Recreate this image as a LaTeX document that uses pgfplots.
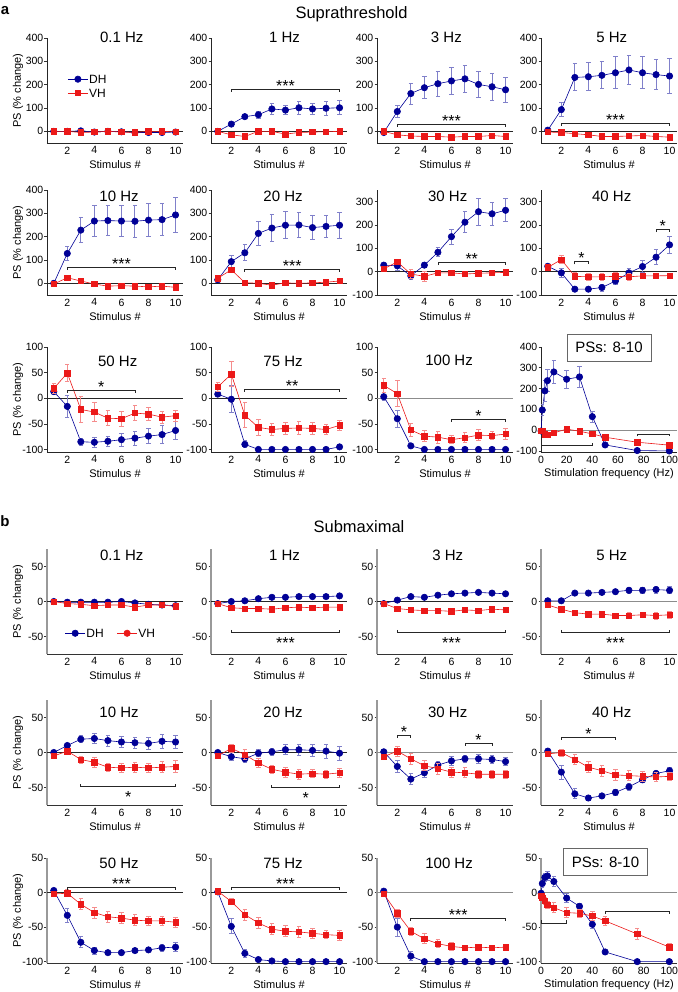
\documentclass[border=0pt]{standalone}
\usepackage{fontspec}
\setmainfont{Liberation Sans}
\usepackage{pgfplots}
\pgfplotsset{compat=1.18}
\definecolor{dhblue}{RGB}{0,0,150}
\definecolor{vhred}{RGB}{235,25,25}
\newcommand{\fs}[1]{\fontsize{#1}{#1}\selectfont}
\pgfplotsset{
 base/.style={
  scale only axis, width=136pt, height=105pt, anchor=south west,
  axis x line*=bottom, axis y line*=left, clip mode=individual,
  tick align=outside, major tick length=2.5pt,
  xtick style={draw=none}, ytick style={black!80, line width=0.6pt},
  tick label style={font=\fs{10.5}}, /pgf/number format/assume math mode=true,
  yticklabel style={inner sep=1pt}, xticklabel style={inner sep=1pt},
  xlabel={Stimulus \#},
  every axis x label/.style={at={(rel axis cs:0.5,0)}, anchor=center, yshift=-22pt, font=\fs{11}},
  every axis y label/.style={at={(rel axis cs:-0.213,0.5)}, anchor=center, rotate=90, font=\fs{11}},
  xmin=0.5, xmax=10.55, xtick={2,4,6,8,10},
  legend image code/.code={\draw[mark repeat=2,mark phase=2,##1] plot coordinates {(0pt,0pt) (10pt,0pt) (20pt,0pt)};},
 },
 sA/.style={x axis line style={black!85, line width=0.7pt}, y axis line style={black!85, line width=0.7pt}},
 sB/.style={x axis line style={black!80, line width=0.7pt}, y axis line style={black!40, line width=1.6pt}},
 fq/.style={xmin=0, xmax=106, xtick={0,20,40,60,80,100}, xlabel={Stimulation frequency (Hz)}},
 dh/.style={color=dhblue, line width=0.6pt, mark=*, mark size=3.2pt, mark options={solid, fill=dhblue, draw=dhblue},
  error bars/y dir=both, error bars/y explicit,
  error bars/error bar style={dhblue!50, line width=1pt},
  error bars/error mark options={rotate=90, dhblue!50, mark size=2.2pt, line width=1pt}},
 vh/.style={color=vhred, line width=0.6pt, mark=square*, mark size=2.7pt, mark options={solid, fill=vhred, draw=vhred},
  error bars/y dir=both, error bars/y explicit,
  error bars/error bar style={vhred!50, line width=1pt},
  error bars/error mark options={rotate=90, vhred!50, mark size=2.2pt, line width=1pt}},
 legA/.style={legend cell align=left, legend style={at={(rel axis cs:0.15,0.66)}, anchor=north west, draw=none, fill=none, font=\fs{12}, row sep=3pt, inner sep=0pt, nodes={inner sep=1pt, text height=8.6pt, text depth=0pt}}},
 legB/.style={legend columns=2, legend style={at={(rel axis cs:0.13,0.25)}, anchor=north west, draw=none, fill=none, font=\fs{12}, inner sep=0pt, nodes={inner sep=1pt, text height=8.6pt, text depth=0pt}, /tikz/every even column/.append style={column sep=12pt}}},
}
\newcommand{\dhplot}[1]{\addplot[dh] table[x index=0,y index=1,y error index=2,row sep=\\]{#1};}
\newcommand{\vhplot}[1]{\addplot[vh] table[x index=0,y index=1,y error index=2,row sep=\\]{#1};}
\newcommand{\dhplotf}[1]{\addplot[dh,forget plot] table[x index=0,y index=1,y error index=2,row sep=\\]{#1};}
\newcommand{\vhplotf}[1]{\addplot[vh,forget plot] table[x index=0,y index=1,y error index=2,row sep=\\]{#1};}
\newcommand{\ttl}[3]{\node[font=\fs{15}, yshift=#2pt] at (rel axis cs:#1,1) {#3};}
\newcommand{\zl}[3]{\draw[#3, line width=0.7pt] (axis cs:#1,0) -- (axis cs:#2,0);}
% bar with text above: x1 x2 y xmid text
\newcommand{\sigU}[5]{\draw[black!85, line width=0.8pt] ([yshift=-2.5pt]axis cs:#1,#3) -- (axis cs:#1,#3) -- (axis cs:#2,#3) -- ([yshift=-2.5pt]axis cs:#2,#3);
 \node[anchor=base, font=\fs{16}, inner sep=0pt, yshift=-2pt] at (axis cs:#4,#3) {#5};}
% bar with text below
\newcommand{\sigD}[5]{\draw[black!85, line width=0.8pt] ([yshift=2.5pt]axis cs:#1,#3) -- (axis cs:#1,#3) -- (axis cs:#2,#3) -- ([yshift=2.5pt]axis cs:#2,#3);
 \node[anchor=base, font=\fs{16}, inner sep=0pt, yshift=-16pt] at (axis cs:#4,#3) {#5};}
\newcommand{\pss}[2]{\node[draw=black!60, line width=0.8pt, font=\fs{15}, minimum width=84pt, minimum height=27pt, inner sep=0pt, fill=white] at (rel axis cs:#1,#2) {PSs: 8-10};}

\begin{document}
\begin{tikzpicture}
\useasboundingbox (0,0) rectangle (677pt,-992pt);
\node[font=\bfseries\fs{15}] at (5pt,-11pt) {a};
\node[font=\bfseries\fs{15}] at (5pt,-521pt) {b};
\node[font=\fs{16.5}, anchor=base] at (351.5pt,-19pt) {Suprathreshold};
\node[font=\fs{16.5}, anchor=base] at (359pt,-532pt) {Submaximal};

%%%%%%%%%%%%%%%% SECTION A ROW 1
\begin{axis}[base, sA, legA, at={(47pt,-143pt)}, ymin=-50, ymax=400, ytick={0,100,200,300,400}, ylabel={PS (\% change)}]
\zl{0.5}{10.55}{black!85}
\dhplot{1 0 3\\2 0 3\\3 2 3\\4 -3 3\\5 0 3\\6 -2 3\\7 -5 3\\8 -5 3\\9 -5 4\\10 -3 3\\}
\vhplot{1 0 3\\2 0 3\\3 -5 3\\4 -3 3\\5 0 3\\6 -3 3\\7 -5 4\\8 0 4\\9 0 4\\10 -2 3\\}
\addlegendentry{DH}
\addlegendentry{VH}
\ttl{0.55}{1}{0.1 Hz}
\end{axis}

\begin{axis}[base, sA, at={(211pt,-143pt)}, ymin=-50, ymax=400, ytick={0,100,200,300,400}]
\zl{0.5}{10.55}{black!85}
\dhplot{1 0 2\\2 31 5\\3 63 10\\4 71 15\\5 96 25\\6 91 20\\7 101 28\\8 96 25\\9 99 30\\10 101 30\\}
\vhplot{1 0 2\\2 -15 5\\3 -22 5\\4 0 4\\5 0 4\\6 -12 5\\7 -5 5\\8 -3 5\\9 -2 4\\10 0 4\\}
\sigU{2}{10}{180}{6}{***}
\ttl{0.54}{1}{1 Hz}
\end{axis}

\begin{axis}[base, sA, at={(377pt,-143pt)}, ymin=-50, ymax=400, ytick={0,100,200,300,400}]
\zl{0.5}{10.55}{black!85}
\dhplot{1 -5 5\\2 85 25\\3 162 45\\4 187 48\\5 204 53\\6 216 58\\7 225 58\\8 201 55\\9 191 58\\10 178 53\\}
\vhplot{1 0 5\\2 -15 5\\3 -20 5\\4 -22 5\\5 -22 5\\6 -25 5\\7 -22 5\\8 -22 5\\9 -18 5\\10 -22 5\\}
\sigU{2}{10}{31}{6}{***}
\ttl{0.51}{1}{3 Hz}
\end{axis}

\begin{axis}[base, sA, at={(541pt,-143pt)}, ymin=-50, ymax=400, ytick={0,100,200,300,400}]
\zl{0.5}{10.55}{black!85}
\dhplot{1 5 5\\2 93 30\\3 231 58\\4 234 60\\5 240 58\\6 251 68\\7 263 62\\8 251 68\\9 243 65\\10 237 75\\}
\vhplot{1 -3 5\\2 -5 5\\3 -10 5\\4 -15 5\\5 -22 5\\6 -22 5\\7 -20 5\\8 -18 5\\9 -22 5\\10 -25 5\\}
\sigU{2}{10}{34}{6}{***}
\ttl{0.52}{1}{5 Hz}
\end{axis}

%%%%%%%%%%%%%%%% SECTION A ROW 2
\begin{axis}[base, sA, at={(47pt,-295pt)}, ymin=-50, ymax=400, ytick={0,100,200,300,400}, ylabel={PS (\% change)}]
\zl{0.5}{10.55}{black!85}
\dhplot{1 0 4\\2 128 30\\3 228 55\\4 267 65\\5 269 65\\6 267 68\\7 266 68\\8 271 70\\9 273 70\\10 293 75\\}
\vhplot{1 -3 5\\2 24 8\\3 10 6\\4 -3 6\\5 -12 6\\6 -10 6\\7 -12 6\\8 -15 6\\9 -12 8\\10 -17 8\\}
\sigU{2}{10}{69}{6}{***}
\ttl{0.53}{-6}{10 Hz}
\end{axis}

\begin{axis}[base, sA, at={(211pt,-295pt)}, ymin=-50, ymax=400, ytick={0,100,200,300,400}]
\zl{0.5}{10.55}{black!85}
\dhplot{1 15 5\\2 93 25\\3 131 35\\4 214 52\\5 237 58\\6 249 58\\7 250 55\\8 239 50\\9 244 48\\10 249 55\\}
\vhplot{1 22 8\\2 58 12\\3 3 10\\4 0 10\\5 -8 12\\6 2 10\\7 0 8\\8 2 8\\9 5 8\\10 10 10\\}
\sigU{3}{10}{60}{6.5}{***}
\ttl{0.53}{-6}{20 Hz}
\end{axis}

\begin{axis}[base, sA, at={(377pt,-295pt)}, ymin=-100, ymax=350, ytick={-100,0,100,200,300}]
\zl{0.5}{10.55}{black!85}
\dhplot{1 28 5\\2 25 20\\3 -18 15\\4 28 10\\5 83 20\\6 150 32\\7 212 45\\8 257 58\\9 248 50\\10 263 50\\}
\vhplot{1 12 8\\2 42 12\\3 -10 20\\4 -20 20\\5 -5 12\\6 -5 12\\7 -10 10\\8 -7 10\\9 -5 10\\10 -3 10\\}
\sigU{5}{10}{39}{7.5}{**}
\ttl{0.52}{-6}{30 Hz}
\end{axis}

\begin{axis}[base, sA, at={(541pt,-295pt)}, ymin=-100, ymax=350, ytick={-100,0,100,200,300}]
\zl{0.5}{10.55}{black!85}
\dhplot{1 23 5\\2 -5 20\\3 -75 8\\4 -75 8\\5 -68 15\\6 -40 15\\7 -5 20\\8 22 25\\9 62 33\\10 115 36\\}
\vhplot{1 18 10\\2 52 18\\3 -20 15\\4 -22 15\\5 -22 15\\6 -20 15\\7 -22 15\\8 -18 12\\9 -18 8\\10 -17 8\\}
\sigU{3}{4}{42}{3.5}{*}
\sigU{9}{10}{180}{9.5}{*}
\ttl{0.52}{-6}{40 Hz}
\end{axis}

%%%%%%%%%%%%%%%% SECTION A ROW 3
\begin{axis}[base, sA, at={(47pt,-452pt)}, ymin=-105, ymax=100, ytick={-100,-50,0,50,100}, ylabel={PS (\% change)}]
\zl{0.5}{10.55}{black!85}
\dhplot{1 13 5\\2 -16 22\\3 -85 7\\4 -86 10\\5 -84 10\\6 -81 13\\7 -78 14\\8 -74 15\\9 -71 17\\10 -63 18\\}
\vhplot{1 19 10\\2 49 17\\3 -22 25\\4 -27 18\\5 -39 15\\6 -40 15\\7 -29 15\\8 -31 13\\9 -37 12\\10 -34 11\\}
\sigU{2}{7}{16}{4.5}{*}
\ttl{0.52}{-14.5}{50 Hz}
\end{axis}

\begin{axis}[base, sA, at={(211pt,-452pt)}, ymin=-105, ymax=100, ytick={-100,-50,0,50,100}]
\zl{0.5}{10.55}{black!85}
\dhplot{1 8 5\\2 -2 26\\3 -90 7\\4 -100 2\\5 -100 2\\6 -100 2\\7 -100 2\\8 -100 2\\9 -100 2\\10 -95 3\\}
\vhplot{1 22 8\\2 47 25\\3 -33 25\\4 -57 15\\5 -61 12\\6 -59 12\\7 -58 12\\8 -59 12\\9 -61 10\\10 -53 10\\}
\sigU{3}{10}{18}{6.5}{**}
\ttl{0.53}{-14.5}{75 Hz}
\end{axis}

\begin{axis}[base, sA, at={(377pt,-452pt)}, ymin=-105, ymax=100, ytick={-100,-50,0,50,100}]
\zl{0.5}{10.55}{black!45}
\dhplot{1 3 8\\2 -40 17\\3 -93 4\\4 -100 2\\5 -100 2\\6 -100 2\\7 -100 2\\8 -100 2\\9 -100 2\\10 -100 2\\}
\vhplot{1 25 13\\2 9 25\\3 -62 12\\4 -74 11\\5 -76 12\\6 -81 8\\7 -77 10\\8 -72 10\\9 -73 8\\10 -70 10\\}
\sigU{6}{10}{-41}{8}{*}
\ttl{0.53}{-13.5}{100 Hz}
\end{axis}

\begin{axis}[base, sA, fq, at={(541pt,-452pt)}, ymin=-105, ymax=400, ytick={-100,0,100,200,300,400}]
\zl{0}{106}{black!45}
\dhplot{0.1 -4 3\\1 97 25\\3 189 50\\5 238 54\\10 280 56\\20 245 44\\30 256 50\\40 65 27\\50 -71 8\\75 -98 3\\100 -100 2\\}
\vhplot{0.1 -3 6\\1 -3 6\\3 -20 8\\5 -22 8\\10 -13 8\\20 5 8\\30 -5 10\\40 -18 8\\50 -34 8\\75 -58 8\\100 -72 8\\}
\sigD{0}{40}{-73}{20}{}
\sigU{75}{100}{-18}{87.5}{}
\pss{0.5}{0.995}
\end{axis}

%%%%%%%%%%%%%%%% SECTION B ROW 1
\begin{axis}[base, sB, legB, at={(47pt,-654pt)}, ymin=-75, ymax=75, ytick={-50,0,50}, ylabel={PS (\% change)}]
\zl{0.5}{10.55}{black!85}
\dhplotf{1 0 2\\2 -1 2\\3 -1 2\\4 -1 2\\5 -1 2\\6 0 2\\7 -2 2\\8 -4 2\\9 -5 2\\10 -6 2\\}
\vhplotf{1 0 2\\2 -3 2\\3 -4 2\\4 -6 2\\5 -5 2\\6 -5 2\\7 -8 2\\8 -5 2\\9 -5 2\\10 -7 2\\}
\addlegendimage{color=dhblue, line width=0.6pt, mark=*, mark size=3.2pt, mark options={solid, fill=dhblue}}
\addlegendentry{DH}
\addlegendimage{color=vhred, line width=0.6pt, mark=*, mark size=3.2pt, mark options={solid, fill=vhred}}
\addlegendentry{VH}
\ttl{0.55}{-6}{0.1 Hz}
\end{axis}

\begin{axis}[base, sB, at={(211pt,-654pt)}, ymin=-75, ymax=75, ytick={-50,0,50}]
\zl{0.5}{10.55}{black!85}
\dhplot{1 -3 2\\2 0 2\\3 1 2\\4 4 2\\5 6 2\\6 6 2\\7 7 2\\8 7 2\\9 7 2\\10 8 2\\}
\vhplot{1 -3 2\\2 -9 3\\3 -10 3\\4 -10 3\\5 -11 3\\6 -9 3\\7 -8 3\\8 -9 3\\9 -8 3\\10 -8 3\\}
\sigD{2}{10}{-44}{6}{***}
\ttl{0.54}{-6}{1 Hz}
\end{axis}

\begin{axis}[base, sB, at={(377pt,-654pt)}, ymin=-75, ymax=75, ytick={-50,0,50}]
\zl{0.5}{10.55}{black!85}
\dhplot{1 -3 2\\2 2 2\\3 7 2\\4 6 2\\5 9 2\\6 11 2\\7 12 2\\8 13 2\\9 12 2\\10 11 2\\}
\vhplot{1 -3 2\\2 -10 2\\3 -12 2\\4 -13 2\\5 -13 2\\6 -14 3\\7 -12 3\\8 -13 3\\9 -11 3\\10 -12 3\\}
\sigD{2}{10}{-44}{6}{***}
\ttl{0.52}{-6}{3 Hz}
\end{axis}

\begin{axis}[base, sB, at={(541pt,-654pt)}, ymin=-75, ymax=75, ytick={-50,0,50}]
\zl{0.5}{10.55}{black!45}
\dhplot{1 1 2\\2 1 2\\3 12 3\\4 12 3\\5 13 3\\6 14 3\\7 16 4\\8 16 4\\9 17 5\\10 16 5\\}
\vhplot{1 -5 2\\2 -11 3\\3 -16 3\\4 -18 3\\5 -18 3\\6 -20 3\\7 -20 4\\8 -19 4\\9 -20 5\\10 -19 5\\}
\sigD{2}{10}{-44}{6}{***}
\ttl{0.52}{-6}{5 Hz}
\end{axis}

%%%%%%%%%%%%%%%% SECTION B ROW 2
\begin{axis}[base, sB, at={(47pt,-805pt)}, ymin=-75, ymax=75, ytick={-50,0,50}, ylabel={PS (\% change)}]
\zl{0.5}{10.55}{black!85}
\dhplot{1 0 2\\2 10 3\\3 19 5\\4 20 7\\5 17 8\\6 15 8\\7 14 8\\8 13 8\\9 16 10\\10 15 9\\}
\vhplot{1 -5 3\\2 2 4\\3 -10 5\\4 -14 7\\5 -21 6\\6 -22 6\\7 -21 7\\8 -22 6\\9 -21 8\\10 -20 8\\}
\sigD{3}{10}{-48.6}{6.5}{*}
\ttl{0.53}{-12}{10 Hz}
\end{axis}

\begin{axis}[base, sB, at={(211pt,-805pt)}, ymin=-75, ymax=75, ytick={-50,0,50}]
\zl{0.5}{10.55}{black!85}
\dhplot{1 0 3\\2 -6 6\\3 -9 5\\4 -1 5\\5 1 5\\6 4 7\\7 4 8\\8 3 9\\9 2 10\\10 -1 10\\}
\vhplot{1 -5 3\\2 6 6\\3 -3 7\\4 -15 7\\5 -24 6\\6 -28 7\\7 -31 7\\8 -30 6\\9 -31 6\\10 -29 6\\}
\sigD{5}{10}{-50}{7.5}{*}
\ttl{0.53}{-12}{20 Hz}
\end{axis}

\begin{axis}[base, sB, at={(377pt,-805pt)}, ymin=-75, ymax=75, ytick={-50,0,50}]
\zl{0.5}{10.55}{black!45}
\dhplot{1 1 3\\2 -20 8\\3 -38 8\\4 -29 6\\5 -18 5\\6 -12 6\\7 -9 5\\8 -9 6\\9 -10 6\\10 -13 6\\}
\vhplot{1 -6 3\\2 2 7\\3 -9 8\\4 -19 7\\5 -23 8\\6 -28 7\\7 -29 7\\8 -31 6\\9 -31 6\\10 -31 6\\}
\sigU{2}{3}{24}{2.5}{*}
\sigU{7}{9}{13}{8}{*}
\ttl{0.52}{-12}{30 Hz}
\end{axis}

\begin{axis}[base, sB, at={(541pt,-805pt)}, ymin=-75, ymax=75, ytick={-50,0,50}]
\zl{0.5}{10.55}{black!45}
\dhplot{1 2 3\\2 -28 10\\3 -59 7\\4 -65 4\\5 -62 4\\6 -57 4\\7 -49 5\\8 -39 4\\9 -30 5\\10 -26 5\\}
\vhplot{1 -2 3\\2 0 5\\3 -10 7\\4 -21 8\\5 -26 8\\6 -32 8\\7 -33 7\\8 -34 7\\9 -35 7\\10 -34 6\\}
\sigU{2}{6}{22}{4}{*}
\ttl{0.52}{-12}{40 Hz}
\end{axis}

%%%%%%%%%%%%%%%% SECTION B ROW 3
\begin{axis}[base, sB, at={(47pt,-963pt)}, ymin=-102, ymax=50, ytick={-100,-50,0,50}, ylabel={PS (\% change)}]
\zl{0.5}{10.55}{black!85}
\dhplot{1 3 2\\2 -33 10\\3 -72 8\\4 -84 5\\5 -87 3\\6 -87 3\\7 -84 3\\8 -83 3\\9 -80 5\\10 -79 6\\}
\vhplot{1 -2 3\\2 -1 5\\3 -17 8\\4 -29 8\\5 -35 8\\6 -37 8\\7 -40 8\\8 -41 7\\9 -41 7\\10 -43 7\\}
\sigU{2}{10}{8}{6}{***}
\ttl{0.53}{-5}{50 Hz}
\end{axis}

\begin{axis}[base, sB, at={(211pt,-963pt)}, ymin=-102, ymax=50, ytick={-100,-50,0,50}]
\zl{0.5}{10.55}{black!85}
\dhplot{1 1 2\\2 -49 11\\3 -88 6\\4 -97 3\\5 -99 2\\6 -100 2\\7 -100 2\\8 -100 2\\9 -100 2\\10 -100 2\\}
\vhplot{1 2 3\\2 -13 5\\3 -32 8\\4 -44 8\\5 -53 8\\6 -56 8\\7 -57 8\\8 -59 7\\9 -61 6\\10 -62 7\\}
\sigU{2}{10}{8}{6}{***}
\ttl{0.53}{-5}{75 Hz}
\end{axis}

\begin{axis}[base, sB, at={(377pt,-963pt)}, ymin=-102, ymax=50, ytick={-100,-50,0,50}]
\zl{0.5}{10.55}{black!45}
\dhplot{1 2 3\\2 -50 13\\3 -92 6\\4 -100 2\\5 -100 2\\6 -100 2\\7 -100 2\\8 -100 2\\9 -100 2\\10 -100 2\\}
\vhplot{1 -2 4\\2 -30 6\\3 -56 6\\4 -67 7\\5 -74 6\\6 -78 6\\7 -80 4\\8 -79 4\\9 -80 4\\10 -79 4\\}
\sigU{3}{10}{-37}{6.5}{***}
\ttl{0.53}{-5}{100 Hz}
\end{axis}

\begin{axis}[base, sB, fq, at={(541pt,-963pt)}, ymin=-102, ymax=50, ytick={-100,-50,0,50}]
\zl{0}{106}{black!45}
\dhplot{0.1 -1 3\\1 13 5\\3 22 6\\5 24 6\\10 16 7\\20 -8 6\\30 -20 4\\40 -46 6\\50 -86 3\\75 -100 2\\100 -100 2\\}
\vhplot{0.1 -5 3\\1 -8 4\\3 -12 5\\5 -18 5\\10 -22 7\\20 -29 7\\30 -30 6\\40 -34 6\\50 -41 7\\75 -60 8\\100 -79 5\\}
\sigD{0}{20}{-44}{10}{}
\sigU{50}{100}{-27}{75}{}
\pss{0.474}{0.962}
\end{axis}
\end{tikzpicture}
\end{document}
